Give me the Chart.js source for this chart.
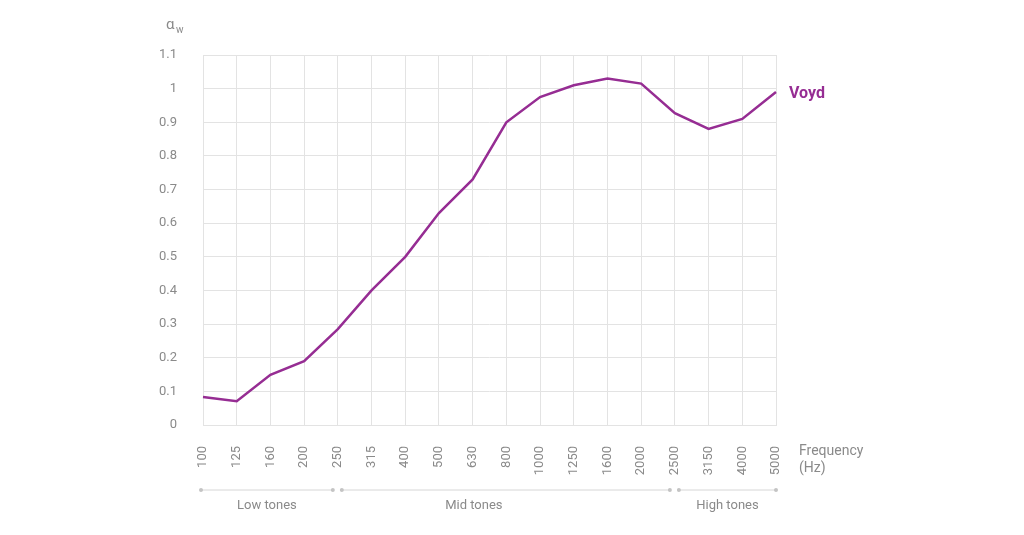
<!DOCTYPE html>
<html>
<head>
<meta charset="utf-8">
<script src="https://cdn.jsdelivr.net/npm/chart.js@4/dist/chart.umd.min.js"></script>
<style>
	html, body { margin: 0; padding: 0; background: #fff; }
	#wrap { width: 1024px; height: 535px; }
</style>
</head>
<body>
<div id="wrap"><canvas id="myChart"></canvas></div>
<script>
var frequencies = ['100', '125', '160', '200', '250', '315', '400', '500', '630', '800', '1000', '1250', '1600', '2000', '2500', '3150', '4000', '5000'];
var voyd = [0.083, 0.071, 0.149, 0.19, 0.285, 0.40, 0.50, 0.63, 0.73, 0.90, 0.975, 1.01, 1.03, 1.015, 0.927, 0.88, 0.91, 0.99];
var seriesName = 'Voyd';
// tone groups: [label, first category, last category]
var toneGroups = [['Low tones', '100', '250'], ['Mid tones', '250', '2500'], ['High tones', '2500', '5000']];

var purple = '#962d93';
var grey = '#8a8a8a';
var gridGrey = '#e3e3e3';
var font = '"Liberation Sans Narrow", "Roboto", sans-serif';

var extras = {
	id: 'extras',
	afterDraw: function(chart) {
		var ctx = chart.ctx;
		var xs = chart.scales.x;
		var ys = chart.scales.y;
		ctx.save();

		// alpha w label
		ctx.fillStyle = grey;
		ctx.textAlign = 'left';
		ctx.textBaseline = 'alphabetic';
		ctx.font = '15px ' + font;
		ctx.fillText('α', 166, 29);
		ctx.font = '10px ' + font;
		ctx.fillText('w', 176, 33);

		// axis title
		ctx.font = '14px ' + font;
		ctx.fillText('Frequency', 799, 455);
		ctx.fillText('(Hz)', 799, 472);

		// series label
		var last = voyd.length - 1;
		ctx.fillStyle = purple;
		ctx.font = 'bold 16px ' + font;
		ctx.textBaseline = 'middle';
		ctx.fillText(seriesName, 789, ys.getPixelForValue(voyd[last]) + 2);

		// tone brackets
		var yb = 490;
		for (let i = 0; i < toneGroups.length; i++) {
			var g = toneGroups[i];
			var a = xs.getPixelForValue(frequencies.indexOf(g[1]));
			var b = xs.getPixelForValue(frequencies.indexOf(g[2]));
			if (i > 0) a = a + 4;
			if (i < toneGroups.length - 1) b = b - 5;
			if (i == 0) a = a - 2;
			ctx.strokeStyle = '#d6d6d6';
			ctx.lineWidth = 1;
			ctx.beginPath();
			ctx.moveTo(a, yb);
			ctx.lineTo(b, yb);
			ctx.stroke();
			ctx.fillStyle = '#c4c4c4';
			ctx.beginPath();
			ctx.arc(a, yb, 2, 0, Math.PI * 2);
			ctx.arc(b, yb, 2, 0, Math.PI * 2);
			ctx.fill();
			ctx.fillStyle = grey;
			ctx.font = '13px ' + font;
			ctx.textAlign = 'center';
			ctx.textBaseline = 'middle';
			var mid = (a + b) / 2;
			if (i == 1) mid = mid - 32;	// label sits left of centre in the original
			ctx.fillText(g[0], mid, 506);
		}
		ctx.restore();
	}
};

var ctx = document.getElementById('myChart');
var chart = new Chart(ctx, {
	type: 'line',
	data: {
		labels: frequencies,
		datasets: [{
			label: seriesName,
			data: voyd,
			borderColor: purple,
			borderWidth: 2.5,
			pointRadius: 0,
			tension: 0,
			fill: false
		}]
	},
	options: {
		responsive: true,
		maintainAspectRatio: false,
		animation: false,
		layout: { padding: { top: 55, right: 248, bottom: 0, left: 0 } },
		plugins: {
			legend: { display: false },
			tooltip: { enabled: false }
		},
		scales: {
			x: {
				offset: false,
				grid: { color: gridGrey, drawTicks: false },
				border: { color: gridGrey },
				ticks: {
					color: grey,
					font: { family: font, size: 13 },
					minRotation: 90,
					maxRotation: 90,
					padding: 21,
					autoSkip: false
				},
				afterFit: function(scale) { scale.height = 110; }
			},
			y: {
				min: 0,
				max: 1.1,
				grid: { color: gridGrey, drawTicks: false },
				border: { display: false },
				ticks: {
					stepSize: 0.1,
					color: grey,
					font: { family: font, size: 13 },
					padding: 26,
					callback: function(v) { return String(Math.round(v * 10) / 10); }
				},
				afterFit: function(scale) { scale.width = 203; }
			}
		}
	},
	plugins: [extras]
});
</script>
</body>
</html>
